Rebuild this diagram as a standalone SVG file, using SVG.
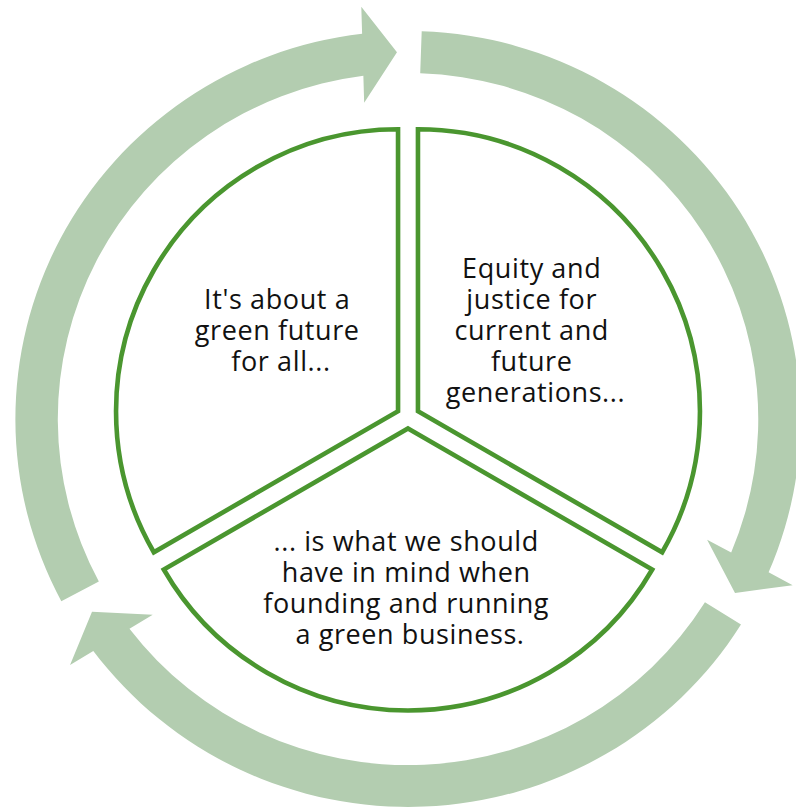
<svg xmlns="http://www.w3.org/2000/svg" xmlns:xlink="http://www.w3.org/1999/xlink" width="796" height="810" viewBox="0 0 796 810">
  <style>
    .arrow { fill: #B3CDB0; }
    .seg { fill: #FFFFFF; stroke: #4A962F; stroke-width: 4.6; stroke-linejoin: miter; }
    .label { font-family: "Open Sans", "Noto Sans", "Liberation Sans", sans-serif; font-size: 27px; letter-spacing: 0.6px; fill: #111111; text-anchor: middle; }
  </style>
  <defs>
    <!-- one curved arrow of the cycle, drawn around the origin -->
    <path id="cycleArrow" d="M -342.58 182.15 A 388 388 0 0 1 -45.35 -385.26 L -46.15 -412.25 L -10.89 -366.84 L -43.31 -316.29 L -44.11 -343.28 A 346 346 0 0 0 -305.50 162.44 Z"/>
  </defs>
  <rect width="796" height="810" fill="#FFFFFF"/>

  <!-- cycle arrows -->
  <g id="connectors" transform="translate(408 419) scale(1.012 1)">
    <use xlink:href="#cycleArrow" class="arrow"/>
    <use xlink:href="#cycleArrow" class="arrow" transform="rotate(120)"/>
    <use xlink:href="#cycleArrow" class="arrow" transform="rotate(240)"/>
  </g>

  <!-- upper-left segment -->
  <g id="segment-future">
    <path class="seg" d="M 398.04 411.25 L 398.04 129.25 A 282 282 0 0 0 153.82 552.25 Z"/>
    <text class="label">
      <tspan x="281" y="309">It's about a</tspan>
      <tspan x="281" y="340">green future</tspan>
      <tspan x="281" y="371">for all...</tspan>
    </text>
  </g>

  <!-- upper-right segment -->
  <g id="segment-equity">
    <path class="seg" d="M 417.96 411.25 L 417.96 129.25 A 282 282 0 0 1 662.18 552.25 Z"/>
    <text class="label">
      <tspan x="535.5" y="278">Equity and</tspan>
      <tspan x="535.5" y="309">justice for</tspan>
      <tspan x="535.5" y="340">current and</tspan>
      <tspan x="535.5" y="371">future</tspan>
      <tspan x="535.5" y="402">generations...</tspan>
    </text>
  </g>

  <!-- bottom segment -->
  <g id="segment-business">
    <path class="seg" d="M 408 428.5 L 652.22 569.5 A 282 282 0 0 1 163.78 569.5 Z"/>
    <text class="label">
      <tspan x="410" y="550.5">... is what we should</tspan>
      <tspan x="410" y="581.5">have in mind when</tspan>
      <tspan x="410" y="612.5">founding and running</tspan>
      <tspan x="410" y="643.5">a green business.</tspan>
    </text>
  </g>
</svg>
